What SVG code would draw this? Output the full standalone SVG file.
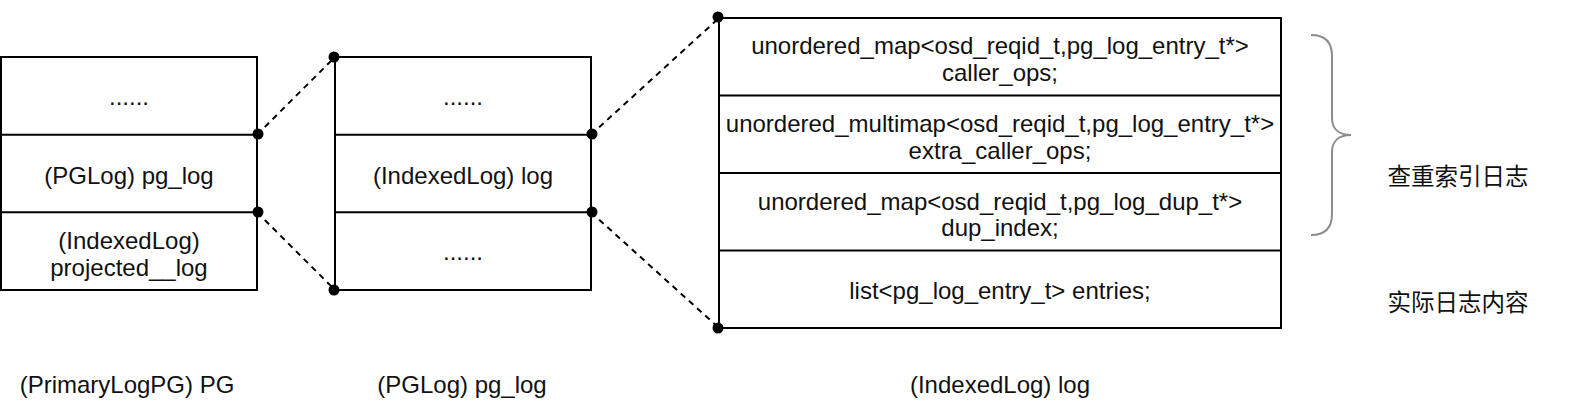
<svg xmlns="http://www.w3.org/2000/svg" width="1578" height="406" viewBox="0 0 1578 406">
<style>
.box{fill:#fff;stroke:#000;stroke-width:2}
.sep{stroke:#000;stroke-width:2}
.t{font-family:"Liberation Sans",Arial,sans-serif;font-size:24px;fill:#111;text-anchor:middle}
.cjk{font-family:"Liberation Sans","Noto Sans CJK SC",sans-serif;font-size:23.5px;fill:#111;text-anchor:middle}
.dash{stroke:#000;stroke-width:2;stroke-dasharray:6 5;fill:none}
.dot{fill:#000}
.brace{fill:none;stroke:#8c8c8c;stroke-width:2}
</style>
<rect width="1578" height="406" fill="#fff"/>
<g id="pg">
<rect class="box" x="1" y="57" width="256" height="233"/>
<line class="sep" x1="1" y1="134.7" x2="257" y2="134.7"/>
<line class="sep" x1="1" y1="212.3" x2="257" y2="212.3"/>
<text class="t" x="129" y="105">......</text>
<text class="t" x="129" y="184">(PGLog) pg_log</text>
<text class="t" x="129" y="249">(IndexedLog)</text>
<text class="t" x="129" y="276">projected__log</text>
</g>
<g id="pglog">
<rect class="box" x="335" y="57" width="256" height="233"/>
<line class="sep" x1="335" y1="134.7" x2="591" y2="134.7"/>
<line class="sep" x1="335" y1="212.3" x2="591" y2="212.3"/>
<text class="t" x="463" y="105">......</text>
<text class="t" x="463" y="184">(IndexedLog) log</text>
<text class="t" x="463" y="260">......</text>
</g>
<g id="indexedlog">
<rect class="box" x="719" y="18" width="562" height="310"/>
<line class="sep" x1="719" y1="95.5" x2="1281" y2="95.5"/>
<line class="sep" x1="719" y1="173" x2="1281" y2="173"/>
<line class="sep" x1="719" y1="250.5" x2="1281" y2="250.5"/>
<text class="t" x="1000" y="54">unordered_map&lt;osd_reqid_t,pg_log_entry_t*&gt;</text>
<text class="t" x="1000" y="80.5">caller_ops;</text>
<text class="t" x="1000" y="132">unordered_multimap&lt;osd_reqid_t,pg_log_entry_t*&gt;</text>
<text class="t" x="1000" y="158.5">extra_caller_ops;</text>
<text class="t" x="1000" y="209.5">unordered_map&lt;osd_reqid_t,pg_log_dup_t*&gt;</text>
<text class="t" x="1000" y="236">dup_index;</text>
<text class="t" x="1000" y="299">list&lt;pg_log_entry_t&gt; entries;</text>
</g>
<g id="brace">
<path class="brace" d="M1311,35 C1325,35 1332,42 1332,56 L1332,118 C1332,129 1339,135 1351,135 C1339,135 1332,141 1332,152 L1332,214 C1332,228 1325,235 1311,235"/>
</g>
<g id="labels">
<text class="cjk" x="1458" y="185">查重索引日志</text>
<text class="cjk" x="1458" y="311">实际日志内容</text>
<text class="t" x="127" y="393">(PrimaryLogPG) PG</text>
<text class="t" x="462" y="393">(PGLog) pg_log</text>
<text class="t" x="1000" y="393">(IndexedLog) log</text>
</g>
<g id="connectors">
<line class="dash" x1="257" y1="134.7" x2="335" y2="57"/>
<line class="dash" x1="257" y1="212.3" x2="335" y2="290"/>
<line class="dash" x1="591" y1="134.7" x2="719" y2="18"/>
<line class="dash" x1="591" y1="212.3" x2="719" y2="328"/>
<circle class="dot" cx="258" cy="134" r="5.5"/>
<circle class="dot" cx="334" cy="57" r="5.5"/>
<circle class="dot" cx="258" cy="212" r="5.5"/>
<circle class="dot" cx="334" cy="290" r="5.5"/>
<circle class="dot" cx="592" cy="134" r="5.5"/>
<circle class="dot" cx="718" cy="17" r="5.5"/>
<circle class="dot" cx="592" cy="212" r="5.5"/>
<circle class="dot" cx="718" cy="328" r="5.5"/>
</g>
</svg>
